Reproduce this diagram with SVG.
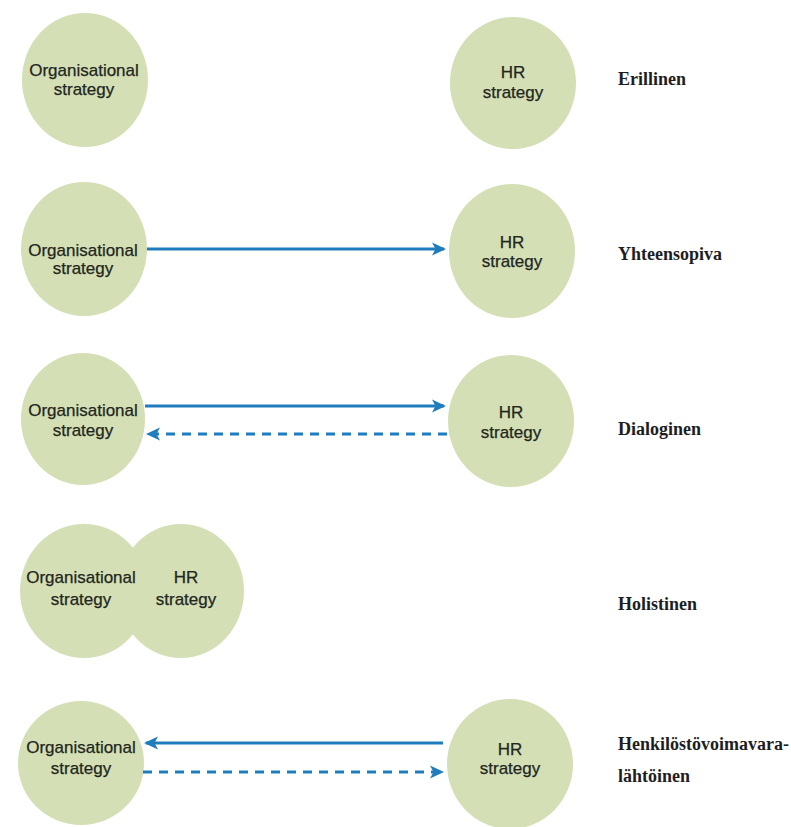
<svg xmlns="http://www.w3.org/2000/svg" width="791" height="827" viewBox="0 0 791 827">
<style>
.node ellipse{fill:#d4dfb6;}
.nt{font-family:"Liberation Sans",Arial,sans-serif;font-size:17px;fill:#22261c;text-anchor:middle;stroke:#22261c;stroke-width:0.25;}
.lbl{font-family:"Liberation Serif","Times New Roman",serif;font-size:18px;font-weight:bold;fill:#1e1e1e;}
.ar{stroke:#1f7dbd;stroke-width:2.8;fill:none;}
.dash{stroke-dasharray:9 7;}
</style>
<defs>
<marker id="ah" markerUnits="userSpaceOnUse" markerWidth="15" markerHeight="14" refX="12" refY="7" orient="auto">
<path d="M0,0.5 L14,7 L0,13.5 L3.5,7 Z" fill="#1f7dbd"/>
</marker>
</defs>
<rect width="791" height="827" fill="#ffffff"/>

<g id="row1-org" class="node"><ellipse cx="85" cy="80" rx="63" ry="67"/><text class="nt" x="84" y="76">Organisational</text><text class="nt" x="84" y="95">strategy</text></g>
<g id="row1-hr" class="node"><ellipse cx="513" cy="83" rx="63" ry="66"/><text class="nt" x="513" y="78">HR</text><text class="nt" x="513" y="98">strategy</text></g>

<g id="row2-org" class="node"><ellipse cx="84" cy="249" rx="63" ry="67"/><text class="nt" x="83" y="256">Organisational</text><text class="nt" x="83" y="274">strategy</text></g>
<g id="row2-hr" class="node"><ellipse cx="512" cy="251" rx="63" ry="67"/><text class="nt" x="512" y="248">HR</text><text class="nt" x="512" y="267">strategy</text></g>

<g id="row3-org" class="node"><ellipse cx="83" cy="419" rx="62" ry="66"/><text class="nt" x="83" y="416">Organisational</text><text class="nt" x="83" y="436">strategy</text></g>
<g id="row3-hr" class="node"><ellipse cx="511" cy="421" rx="63" ry="66"/><text class="nt" x="511" y="418">HR</text><text class="nt" x="511" y="438">strategy</text></g>

<g id="row4-hr" class="node"><ellipse cx="181" cy="591" rx="63" ry="67"/></g>
<g id="row4-org" class="node"><ellipse cx="84" cy="591" rx="64" ry="67"/></g>
<g id="row4-text">
<text class="nt" x="81" y="583">Organisational</text><text class="nt" x="81" y="605">strategy</text>
<text class="nt" x="186" y="583">HR</text><text class="nt" x="186" y="605">strategy</text>
</g>

<g id="row5-org" class="node"><ellipse cx="81" cy="763" rx="63" ry="62"/><text class="nt" x="81" y="753">Organisational</text><text class="nt" x="81" y="774">strategy</text></g>
<g id="row5-hr" class="node"><ellipse cx="510" cy="764" rx="63" ry="65"/><text class="nt" x="510" y="755">HR</text><text class="nt" x="510" y="774">strategy</text></g>

<g id="connectors">
<line class="ar" x1="147" y1="249" x2="444" y2="249" marker-end="url(#ah)"/>
<line class="ar" x1="145" y1="406" x2="444" y2="406" marker-end="url(#ah)"/>
<line class="ar dash" x1="447" y1="434" x2="148" y2="434" marker-end="url(#ah)"/>
<line class="ar" x1="443" y1="743" x2="146" y2="743" marker-end="url(#ah)"/>
<line class="ar dash" x1="143" y1="772" x2="442" y2="772" marker-end="url(#ah)"/>
</g>

<g id="labels">
<text class="lbl" x="618" y="85">Erillinen</text>
<text class="lbl" x="618" y="260">Yhteensopiva</text>
<text class="lbl" x="618" y="435">Dialoginen</text>
<text class="lbl" x="618" y="610">Holistinen</text>
<text class="lbl" x="618" y="750">Henkilöstövoimavara-</text>
<text class="lbl" x="618" y="782">lähtöinen</text>
</g>
</svg>
